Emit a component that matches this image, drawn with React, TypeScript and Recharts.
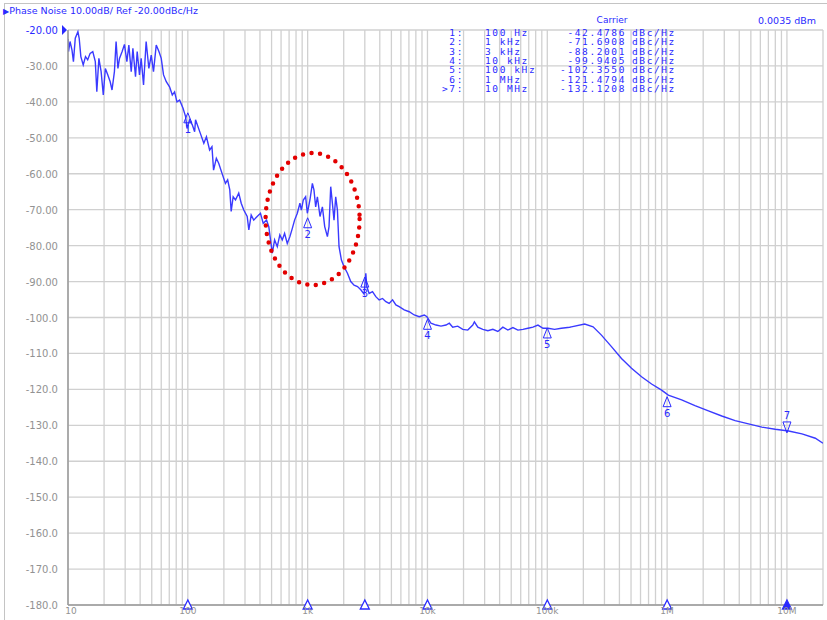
import React from 'react';
import { ComposedChart, Line, XAxis, YAxis, CartesianGrid, ReferenceDot } from 'recharts';

// Offset frequency (Hz) of each trace point
const offsetHz = [
  10, 10.1, 10.4, 10.8, 11.1, 11.5, 12.1, 12.4, 12.8, 13.4, 14.0, 14.6, 15.3, 16.1, 16.9, 17.4, 18.1, 18.9,
  19.7, 20.5, 21.5, 22.5, 23.3, 24.4, 25.2, 26.1, 26.9, 28.3, 29.6, 31.0, 32.2, 33.7, 34.8, 36.6, 37.8, 39.5,
  40.8, 42.7, 44.9, 47.3, 49.5, 51.7, 54.5, 57.4, 60.0, 62.7, 66.1, 70.4, 74.2, 77.5, 81.2, 85.4, 91.2, 95.8,
  98.5, 103.5, 109, 114, 116, 127, 136, 143, 152, 159, 164, 173, 181, 193, 206, 215, 224, 230, 239, 250, 266,
  279, 293, 313, 323, 338, 355, 379, 404, 426, 454, 474, 490, 507, 530, 558, 586, 614, 642, 676, 711, 745,
  778, 820, 862, 886, 920, 962, 994, 1045, 1095, 1129, 1167, 1206, 1268, 1328, 1388, 1462, 1508, 1558, 1609,
  1660, 1715, 1772, 1828, 1914, 2013, 2149, 2290, 2440, 2606, 2777, 2959, 3058, 3117, 3258, 3479, 3707, 3951,
  4218, 4496, 4790, 5113, 5451, 5808, 6395, 7042, 7754, 8539, 9402, 9904, 10700, 11780, 12970, 14280, 15220,
  16250, 17890, 19700, 21690, 23890, 24640, 26310, 28970, 31900, 35130, 38680, 42590, 46900, 51640, 56860,
  62610, 68950, 75920, 83590, 92050, 101400, 115100, 131000, 153700, 158800, 205200, 241200, 283100, 343200,
  416100, 504600, 611900, 742000, 899500, 1023000, 1322000, 1708000, 2212000, 2858000, 3694000, 4780000,
  6178000, 7982000, 10330000, 13350000, 17260000, 20000000,
];

// Phase noise (dBc/Hz) of each trace point
const phaseNoise = [
  -22.5, -26.0, -23.2, -25.6, -28.8, -22.3, -20.5, -22.3, -27.4, -29.7, -27.4, -28.3, -26.5, -26.0, -28.8, -37.2, -27.9, -31.6,
  -38.1, -30.7, -32.5, -34.4, -36.7, -31.6, -23.2, -30.7, -27.9, -26.0, -24.0, -28.8, -24.2, -31.6, -25.1, -33.0, -26.0, -32.5,
  -27.9, -35.3, -23.2, -30.7, -27.0, -31.6, -24.2, -26.0, -27.9, -32.5, -34.4, -35.8, -38.1, -37.2, -40.0, -39.5, -41.8, -44.1,
  -47.4, -45.0, -46.4, -48.3, -45.0, -48.7, -51.5, -49.7, -53.4, -52.5, -59.0, -55.7, -57.1, -59.9, -62.7, -61.7, -64.5, -70.5, -66.4, -67.3, -65.4,
  -68.2, -70.1, -71.9, -75.6, -71.5, -72.9, -71.9, -71.0, -73.8, -72.9, -74.7, -78.4, -82.1, -78.4, -80.3, -77.0, -78.4, -76.6, -79.4, -77.5, -75.2,
  -72.9, -71.0, -68.2, -70.1, -67.3, -66.4, -71.0, -67.3, -62.7, -64.5, -69.2, -66.4, -71.9, -69.2, -74.7, -77.5, -74.7, -63.6, -68.2,
  -72.9, -66.4, -70.1, -80.3, -84.0, -85.9, -87.7, -90.0, -91.0, -91.4, -92.3, -93.5, -87.7, -91.4, -93.3, -92.8, -94.2, -95.1,
  -94.7, -95.6, -96.1, -95.1, -96.5, -97.0, -97.9, -98.4, -99.3, -99.8, -99.3, -99.8, -101.6, -102.1, -102.4, -102.1, -101.6,
  -102.7, -102.4, -103.3, -103.5, -102.1, -101.2, -102.7, -103.3, -103.7, -103.3, -103.9, -102.7, -103.5, -102.8, -103.5,
  -103.3, -103.0, -102.7, -102.1, -103.0, -103.0, -103.3, -103.0, -102.7, -102.6, -101.8, -102.6, -104.9, -108.1,
  -111.4, -114.1, -116.5, -118.5, -120.2, -121.6, -122.9, -124.5, -126.0, -127.4, -128.7, -129.6,
  -130.5, -131.1, -131.6, -132.4, -133.6, -135.0,
];

// Markers
const markerIds = ['1', '2', '3', '4', '5', '6', '7'];
const markerHz = [100, 1000, 3000, 10000, 100000, 1000000, 10000000];
const markerDbc = [-42.4786, -71.6908, -88.2001, -99.9405, -102.355, -121.4794, -132.1208];
const markerPrefix = ['1:', '2:', '3:', '4:', '5:', '6:', '>7:'];
const markerFreqText = ['100 Hz', '1 kHz', '3 kHz', '10 kHz', '100 kHz', '1 MHz', '10 MHz'];
const markerValText = ['-42.4786', '-71.6908', '-88.2001', '-99.9405', '-102.3550', '-121.4794', '-132.1208'];
const markerUnitText = ['dBc/Hz', 'dBc/Hz', 'dBc/Hz', 'dBc/Hz', 'dBc/Hz', 'dBc/Hz', 'dBc/Hz'];
const activeMarker = '7';

// Axes
const yTicks = [-20, -30, -40, -50, -60, -70, -80, -90, -100, -110, -120, -130, -140, -150, -160, -170, -180];
const decades = [10, 100, 1000, 10000, 100000, 1000000, 10000000];
const decadeLabels = ['10', '100', '1k', '10k', '100k', '1M', '10M'];
const minorSteps = [1, 2, 3, 4, 5, 6, 7, 8, 9];
const xMin = 10;
const xMax = 20000000;

// Annotation (circled spur region)
const spurCenterHz = 1100;
const spurCenterDbc = -72.6;

const data = offsetHz.map((f, i) => ({ f, v: phaseNoise[i] }));
const xTicks = decades.flatMap((d) => minorSteps.map((m) => d * m)).filter((v) => v <= xMax);

const BLUE = '#3a3aff';
const TEXT_BLUE = '#2a2aff';
const GRID = '#d0d0d0';
const LABEL_GRAY = '#929292';

const fmtY = (v: number) => (Math.abs(v) >= 100 ? v.toFixed(1) : v.toFixed(2));

const YTick = (props: any) => {
  const { x, y, payload } = props;
  const v = payload.value;
  const isRef = v === -20;
  return (
    <g>
      <text x={x} y={y} dy={4} textAnchor="end" fill={isRef ? TEXT_BLUE : LABEL_GRAY} fontSize={10} fontFamily="DejaVu Sans">
        {fmtY(v)}
      </text>
      {isRef && <path d={`M${x + 4},${y - 5} L${x + 9},${y} L${x + 4},${y + 5} Z`} fill={TEXT_BLUE} />}
    </g>
  );
};

const XTick = (props: any) => {
  const { x, y, payload } = props;
  const idx = decades.indexOf(payload.value);
  if (idx < 0) return <g />;
  return (
    <text x={x} y={y} dy={9} dx={idx === 0 ? 3 : 0} textAnchor="middle" fill={LABEL_GRAY} fontSize={9} fontFamily="DejaVu Sans">
      {decadeLabels[idx]}
    </text>
  );
};

const traceMarker = (id: string) => (props: any) => {
  const { cx, cy } = props;
  if (id === activeMarker) {
    return (
      <g>
        <path d={`M${cx - 4},${cy - 11} L${cx + 4},${cy - 11} L${cx},${cy} Z`} fill="none" stroke={TEXT_BLUE} strokeWidth={1} />
        <text x={cx} y={cy - 14} textAnchor="middle" fill={TEXT_BLUE} fontSize={10} fontFamily="DejaVu Sans">{id}</text>
      </g>
    );
  }
  return (
    <g>
      <path d={`M${cx},${cy + 2} L${cx - 4},${cy + 12} L${cx + 4},${cy + 12} Z`} fill="none" stroke={TEXT_BLUE} strokeWidth={1} />
      <text x={cx} y={cy + 22} textAnchor="middle" fill={TEXT_BLUE} fontSize={10} fontFamily="DejaVu Sans">{id}</text>
    </g>
  );
};

const axisMarker = (id: string) => (props: any) => {
  const { cx, cy } = props;
  const active = id === activeMarker;
  return (
    <path
      d={`M${cx},${cy - 5} L${cx - 4.5},${cy + 4} L${cx + 4.5},${cy + 4} Z`}
      fill={active ? TEXT_BLUE : '#ffffff'}
      stroke={TEXT_BLUE}
      strokeWidth={1.3}
    />
  );
};

const spurRing = (props: any) => {
  const { cx, cy } = props;
  return (
    <ellipse cx={cx} cy={cy} rx={47} ry={66} fill="none" stroke="#e30000" strokeWidth={4.5}
      strokeDasharray="0 8.6" strokeLinecap="round" />
  );
};

const tableCol: React.CSSProperties = {
  position: 'absolute', top: 28, fontFamily: 'DejaVu Sans Mono', fontSize: 9.5, lineHeight: '9.35px',
  color: TEXT_BLUE, letterSpacing: 1.6, whiteSpace: 'pre',
};

export default function App() {
  return (
    <div style={{ position: 'absolute', left: 0, top: 0, width: 827, height: 620, background: '#fff', overflow: 'hidden' }}>
      {/* frame */}
      <div style={{ position: 'absolute', left: 4, top: 3, width: 823, height: 617, borderTop: '1px solid #c4c4c4', borderLeft: '1px solid #c4c4c4' }} />
      <ComposedChart width={827} height={620} data={data} margin={{ top: 30, right: 4, left: 0, bottom: 0 }}>
        <CartesianGrid stroke={GRID} strokeWidth={1.3} />
        <XAxis
          dataKey="f"
          type="number"
          scale="log"
          domain={[xMin, xMax]}
          allowDataOverflow
          ticks={xTicks}
          interval={0}
          tick={<XTick />}
          tickLine={false}
          tickSize={0}
          tickMargin={0}
          height={15}
          stroke="#9a9a9a"
          strokeWidth={1.5}
        />
        <YAxis
          type="number"
          domain={[-180, -20]}
          ticks={yTicks}
          interval={0}
          tick={<YTick />}
          tickLine={false}
          tickSize={8}
          tickMargin={2}
          width={68}
          stroke="#9a9a9a"
          strokeWidth={1.5}
        />
        <Line dataKey="v" type="linear" stroke={BLUE} strokeWidth={1.4} dot={false} isAnimationActive={false} />
        {markerIds.map((id, i) => (
          <ReferenceDot key={'m' + id} x={markerHz[i]} y={markerDbc[i]} r={4} shape={traceMarker(id)} ifOverflow="visible" />
        ))}
        {markerIds.map((id, i) => (
          <ReferenceDot key={'b' + id} x={markerHz[i]} y={-180} r={4} shape={axisMarker(id)} ifOverflow="visible" />
        ))}
        <ReferenceDot x={spurCenterHz} y={spurCenterDbc} r={4} shape={spurRing} ifOverflow="visible" />
      </ComposedChart>

      {/* header */}
      <div style={{ position: 'absolute', left: 3, top: 5, fontFamily: 'DejaVu Sans', fontSize: 9.5, color: TEXT_BLUE, lineHeight: '12px', whiteSpace: 'nowrap' }}>
        <span style={{ fontSize: 8 }}>▶</span>Phase Noise 10.00dB/ Ref -20.00dBc/Hz
      </div>
      <div style={{ position: 'absolute', left: 580, width: 64, textAlign: 'center', top: 15, fontFamily: 'DejaVu Sans', fontSize: 9, color: TEXT_BLUE, lineHeight: '11px' }}>
        Carrier
      </div>
      <div style={{ position: 'absolute', left: 758, top: 15, fontFamily: 'DejaVu Sans', fontSize: 9.5, color: TEXT_BLUE, lineHeight: '11px', whiteSpace: 'nowrap' }}>
        0.0035 dBm
      </div>

      {/* marker table */}
      <div style={{ ...tableCol, left: 430, width: 34, textAlign: 'right' }}>{markerPrefix.join('\n')}</div>
      <div style={{ ...tableCol, left: 485 }}>{markerFreqText.join('\n')}</div>
      <div style={{ ...tableCol, left: 540, width: 86, textAlign: 'right' }}>{markerValText.join('\n')}</div>
      <div style={{ ...tableCol, left: 632 }}>{markerUnitText.join('\n')}</div>
    </div>
  );
}
